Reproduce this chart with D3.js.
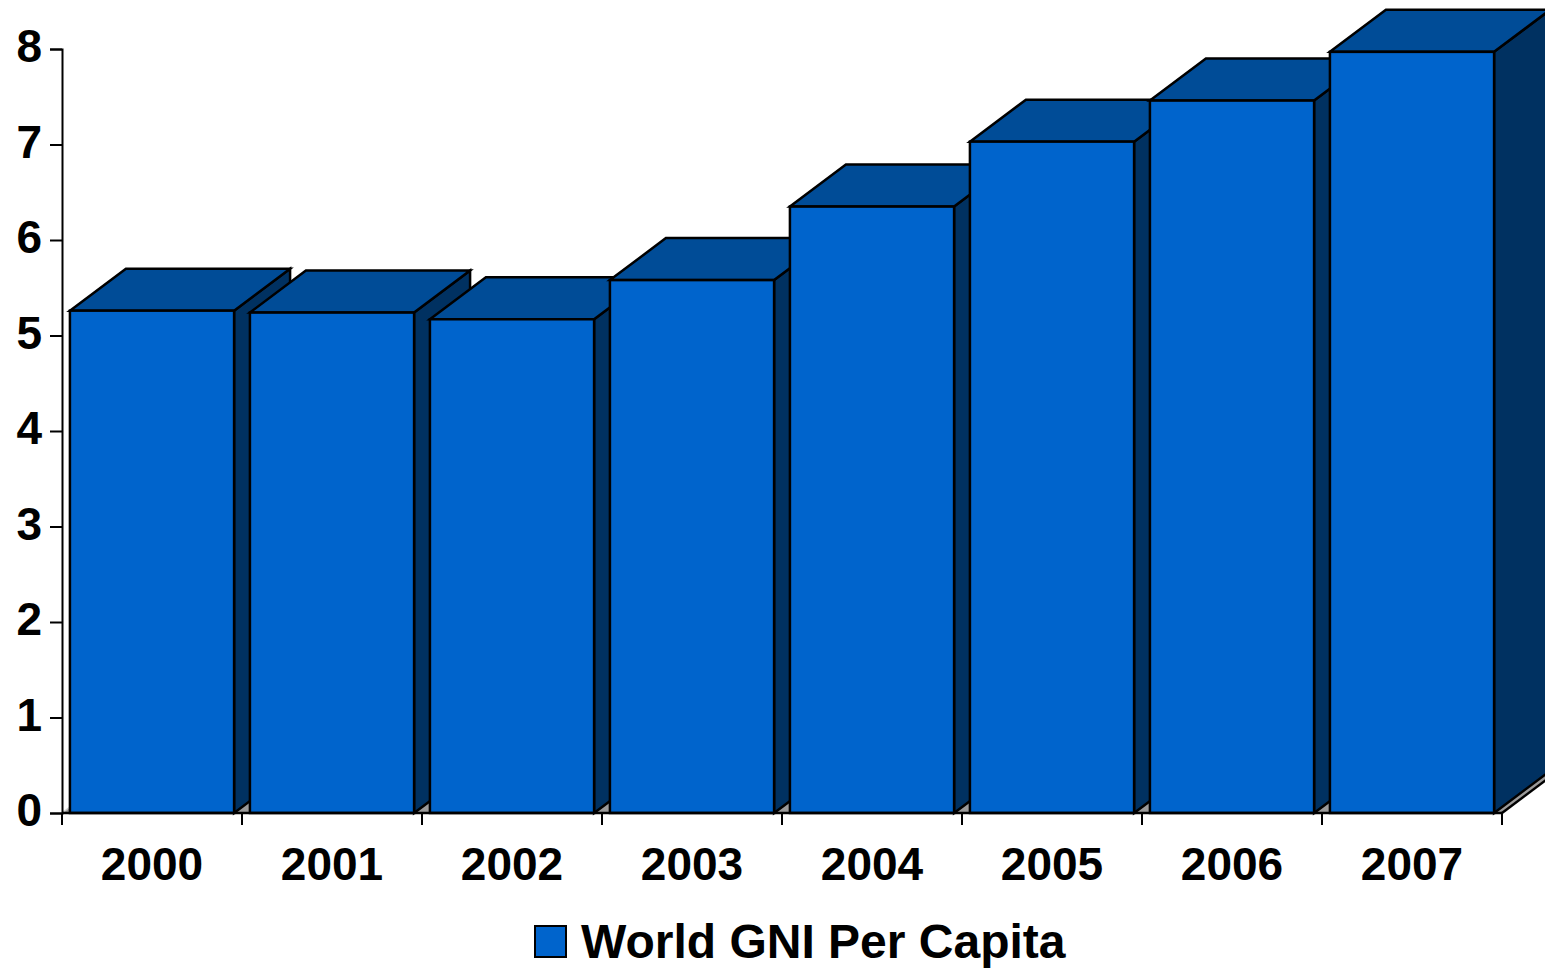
<!DOCTYPE html>
<html>
<head>
<meta charset="utf-8">
<script src="https://cdn.jsdelivr.net/npm/d3@7"></script>
<style>
  html, body { margin: 0; padding: 0; background: #ffffff; }
  svg { display: block; }
  text { font-family: "Liberation Sans", Arial, sans-serif; font-weight: bold; fill: #000; }
</style>
</head>
<body>
<script>
// World GNI per capita by year (thousands)
const years = ["2000", "2001", "2002", "2003", "2004", "2005", "2006", "2007"];
const gniValues = [5.26, 5.24, 5.17, 5.58, 6.35, 7.03, 7.46, 7.97];
const yTicks = [0, 1, 2, 3, 4, 5, 6, 7, 8];
const seriesName = "World GNI Per Capita";

const W = 1545, H = 969;
const plot = { left: 62, right: 1502, top: 49, bottom: 813 };
const depth = { dx: 56, dy: -42 };
const colors = { front: "#0064CC", top: "#004C97", side: "#003161", floor: "#9a9a9a" };

const svg = d3.select("body").append("svg").attr("width", W).attr("height", H);

const x = d3.scaleBand().domain(years).range([plot.left, plot.right]).padding(0);
const y = d3.scaleLinear().domain([0, 8]).range([plot.bottom, plot.top]);
const barW = x.bandwidth() * 0.912;

// Floor plane under the bars
const floorPts = [
  [plot.left, plot.bottom],
  [plot.right, plot.bottom],
  [plot.right + depth.dx, plot.bottom + depth.dy],
  [plot.left + depth.dx, plot.bottom + depth.dy]
];
svg.append("polygon")
  .attr("points", floorPts.map(p => p.join(",")).join(" "))
  .attr("fill", colors.floor);
svg.append("line")
  .attr("x1", plot.left).attr("y1", plot.bottom)
  .attr("x2", plot.left + depth.dx).attr("y2", plot.bottom + depth.dy)
  .attr("stroke", "#d0d0d0").attr("stroke-width", 1.5);
svg.append("line")
  .attr("x1", plot.right).attr("y1", plot.bottom)
  .attr("x2", plot.right + depth.dx).attr("y2", plot.bottom + depth.dy)
  .attr("stroke", "#000").attr("stroke-width", 2.5);

// 3D bars, drawn left to right so each one overlaps its neighbour's side
const bars = svg.append("g");
years.forEach((yr, i) => {
  const x0 = x(yr) + (x.bandwidth() - barW) / 2;
  const x1 = x0 + barW;
  const yt = y(gniValues[i]);
  const yb = y(0);
  const g = bars.append("g").attr("stroke", "#000").attr("stroke-width", 2.5).attr("stroke-linejoin", "miter");
  const poly = pts => pts.map(p => p.join(",")).join(" ");
  // side face
  g.append("polygon").attr("fill", colors.side).attr("points", poly([
    [x1, yt], [x1 + depth.dx, yt + depth.dy], [x1 + depth.dx, yb + depth.dy], [x1, yb]
  ]));
  // top face
  g.append("polygon").attr("fill", colors.top).attr("points", poly([
    [x0, yt], [x1, yt], [x1 + depth.dx, yt + depth.dy], [x0 + depth.dx, yt + depth.dy]
  ]));
  // front face
  g.append("rect").attr("fill", colors.front)
    .attr("x", x0).attr("y", yt).attr("width", barW).attr("height", yb - yt);
});

// Y axis
const yAxis = d3.axisLeft(y).tickValues(yTicks).tickFormat(d3.format("d")).tickSize(12).tickPadding(8);
const gy = svg.append("g").attr("transform", `translate(${plot.left},0)`).call(yAxis);
gy.select(".domain").attr("stroke", "#000").attr("stroke-width", 2);
gy.selectAll(".tick line").attr("stroke", "#000").attr("stroke-width", 2);
gy.selectAll(".tick text").style("font-size", "46px").style("font-family", "'Liberation Sans', Arial, sans-serif")
  .style("font-weight", "bold").attr("fill", "#000").attr("dy", "0.28em");

// X axis: baseline plus ticks at category boundaries
const edges = years.map(d => x(d)).concat([plot.right]);
const gx = svg.append("g");
gx.append("line")
  .attr("x1", plot.left).attr("x2", plot.right)
  .attr("y1", plot.bottom).attr("y2", plot.bottom)
  .attr("stroke", "#000").attr("stroke-width", 2.5);
gx.selectAll("line.tick").data(edges).join("line")
  .attr("class", "tick")
  .attr("x1", d => d).attr("x2", d => d)
  .attr("y1", plot.bottom).attr("y2", plot.bottom + 12)
  .attr("stroke", "#000").attr("stroke-width", 2);
gx.selectAll("text").data(years).join("text")
  .attr("x", d => x(d) + x.bandwidth() / 2)
  .attr("y", 880)
  .attr("text-anchor", "middle")
  .style("font-size", "46px")
  .text(d => d);

// Legend
const lg = svg.append("g");
lg.append("rect").attr("x", 535).attr("y", 926).attr("width", 31).attr("height", 31)
  .attr("fill", colors.front).attr("stroke", "#000").attr("stroke-width", 2);
lg.append("text").attr("x", 581).attr("y", 958).style("font-size", "48px").text(seriesName);
</script>
</body>
</html>
